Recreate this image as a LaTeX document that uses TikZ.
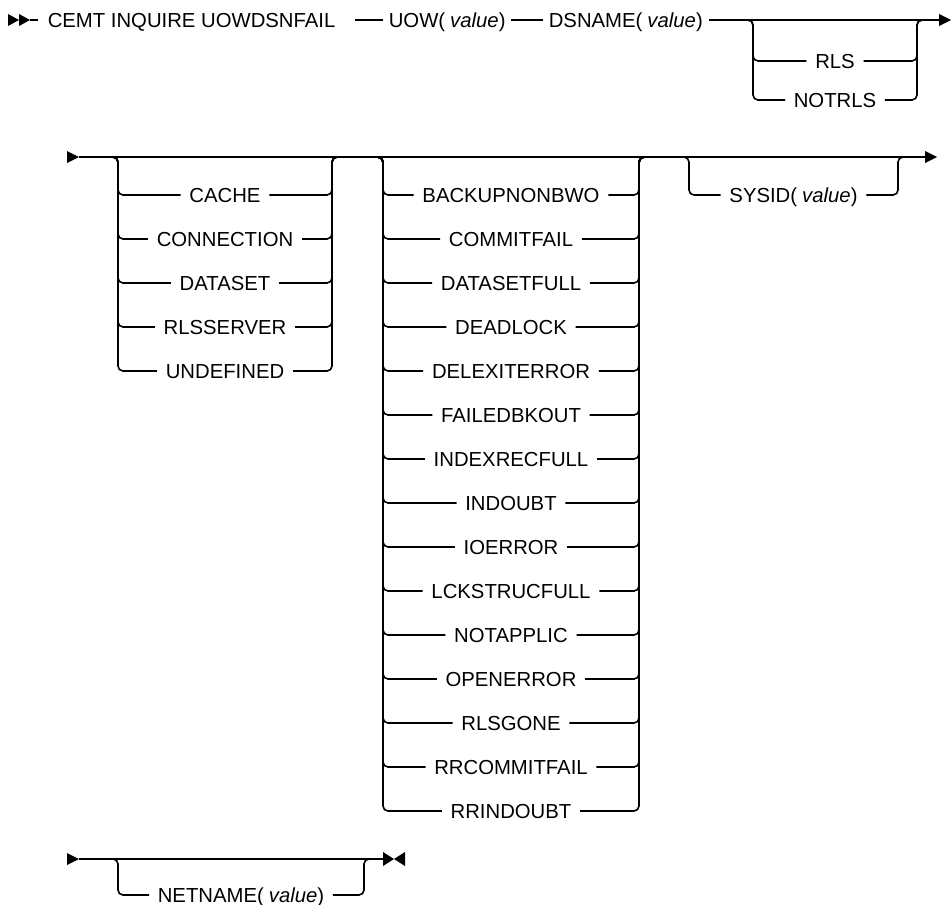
\documentclass[tikz,border=0pt]{standalone}
\usepackage{fontspec}
\setmainfont{Liberation Sans}
\newcommand\rrbranch[6]{%
  \node[lbl] (#1) at ({(#2+#3)/2},#5) {#6};
  \draw[rc] (#2-14,#4) -| (#2,#5) -- (#1.west);
  \draw[rc] (#1.east) -| (#3,#4) -- (#3+14,#4);
}
\newcommand\rarrow[2]{\fill (#1,#2-6) -- (#1+12,#2) -- (#1,#2+6) -- cycle;}
\newcommand\val{\hspace{0.25em}\textit{value}}
\begin{document}
\begin{tikzpicture}[x=1pt,y=-1pt,line width=1.6pt,
  txt/.style={font=\fontsize{20.3}{23}\selectfont, inner ysep=0pt,
    text height=18.27pt, text depth=3.74pt},
  lbl/.style={txt, inner xsep=8pt},
  hd/.style={txt, inner xsep=5pt, anchor=west},
  rc/.style={rounded corners=5pt}]
\useasboundingbox (0,0) rectangle (951,905);
% ---------------- row 1
\fill (8,14) -- (19,20) -- (8,26) -- cycle;
\fill (19,14) -- (30,20) -- (19,26) -- cycle;
\coordinate (r1s) at (30,20);
\coordinate (r1t) at (38,20);
\draw (r1s) -- (r1t);
\node[hd,inner xsep=4pt] (cemt) at (43,20) {CEMT INQUIRE UOWDSNFAIL};
\coordinate (r1a) at (355,20);
\node[hd] (uow) at (383,20) {UOW(\val)};
\node[hd] (dsn) at (543,20) {DSNAME(\val)};
\coordinate (r1e) at (939,20);
\draw (r1a) -- (uow.west);
\draw (uow.east) -- (dsn.west);
\draw (dsn.east) -- (r1e);
\rarrow{939}{20}
\rrbranch{rls}{753}{917}{20}{61}{RLS}
\rrbranch{notrls}{753}{917}{20}{100}{NOTRLS}
% ---------------- row 2
\rarrow{67}{157}
\coordinate (r2s) at (79,157);
\coordinate (r2e) at (925,157);
\draw (r2s) -- (r2e);
\rarrow{925}{157}
\foreach \t [count=\i from 0] in {CACHE,CONNECTION,DATASET,RLSSERVER,UNDEFINED}{
  \rrbranch{a\i}{118}{332}{157}{195+44*\i}{\t}
}
\foreach \t [count=\i from 0] in {BACKUPNONBWO,COMMITFAIL,DATASETFULL,DEADLOCK,DELEXITERROR,FAILEDBKOUT,INDEXRECFULL,INDOUBT,IOERROR,LCKSTRUCFULL,NOTAPPLIC,OPENERROR,RLSGONE,RRCOMMITFAIL,RRINDOUBT}{
  \rrbranch{b\i}{383}{639}{157}{195+44*\i}{\t}
}
\rrbranch{sysid}{689}{898}{157}{195}{SYSID(\val)}
% ---------------- row 3
\rarrow{67}{859}
\coordinate (r3s) at (79,859);
\coordinate (r3e) at (383,859);
\draw (r3s) -- (r3e);
\fill (383,852) -- (394,859) -- (383,866) -- cycle;
\fill (405,852) -- (394,859) -- (405,866) -- cycle;
\rrbranch{netname}{118}{364}{859}{895}{NETNAME(\val)}
\end{tikzpicture}
\end{document}
